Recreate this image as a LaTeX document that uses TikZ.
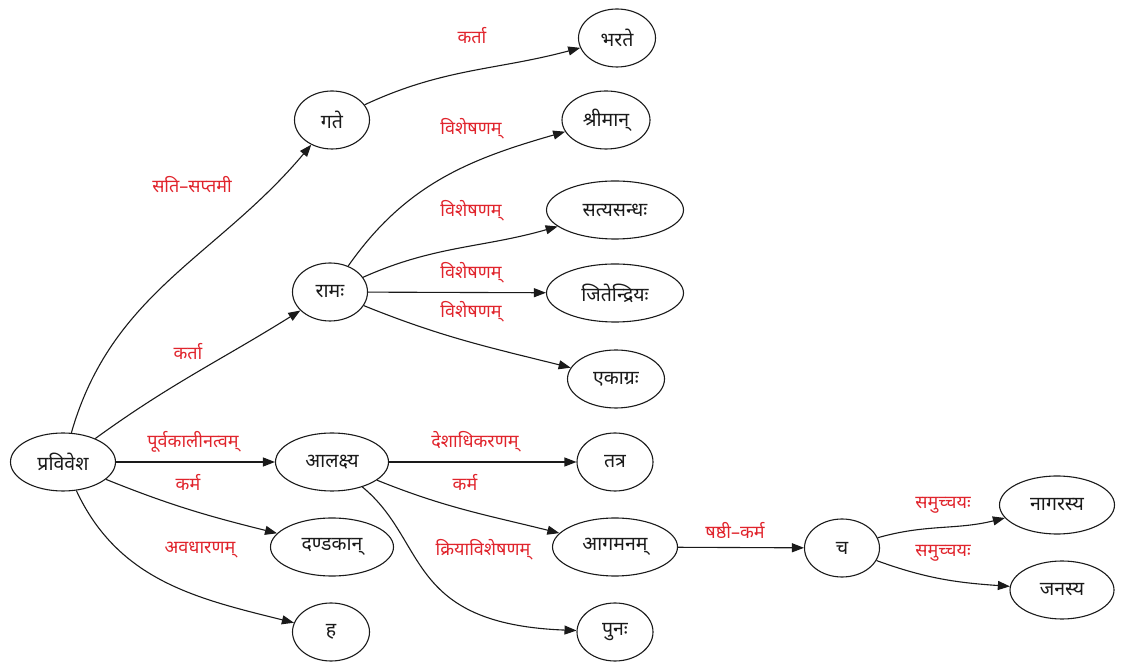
\documentclass[tikz,border=0pt]{standalone}
\usepackage{fontspec}
\usepackage{tikz}
\usetikzlibrary{arrows.meta,positioning,shapes.geometric}
\newfontfamily\deva[Script=Devanagari]{Noto Sans}
\definecolor{inkdark}{HTML}{1A1A1A}
\definecolor{relred}{HTML}{E0242C}
\tikzset{
  word/.style={ellipse, draw=inkdark, line width=1.1pt, minimum height=58pt,
    minimum width=75pt, inner sep=1pt, font=\deva\fontsize{19.5}{22}\selectfont,
    text=inkdark},
  rel/.style={font=\deva\fontsize{18}{21}\selectfont, text=relred, inner sep=1pt},
  dep/.style={-{Triangle[length=12pt,width=9pt]}, line width=1.1pt, color=inkdark},
}
\begin{document}
\begin{tikzpicture}[x=1pt,y=1pt]
  \useasboundingbox (0,0) rectangle (1123,666);
  % words
  \node[word, minimum width=105pt] (pravivesha) at (63,204) {प्रविवेश};
  \node[word] (gate) at (332,546) {गते};
  \node[word, minimum width=77pt] (bharate) at (617,628) {भरते};
  \node[word, minimum width=88pt] (shriman) at (606,546) {श्रीमान्};
  \node[word, minimum width=137pt] (satya) at (615,456) {सत्यसन्धः};
  \node[word] (rama) at (330,374) {रामः};
  \node[word, minimum width=137pt] (jita) at (615,373) {जितेन्द्रियः};
  \node[word, minimum width=97pt] (ekagra) at (616,287) {एकाग्रः};
  \node[word, minimum width=113pt] (alakshya) at (332,204) {आलक्ष्य};
  \node[word, minimum width=76pt] (tatra) at (615,204) {तत्र};
  \node[word, minimum width=125pt] (agamana) at (615,119) {आगमनम्};
  \node[word, minimum width=123pt] (dandaka) at (332,119) {दण्डकान्};
  \node[word, minimum width=77pt] (ha) at (331,34) {ह};
  \node[word, minimum width=76pt] (punah) at (615,34) {पुनः};
  \node[word] (cha) at (842,118) {च};
  \node[word, minimum width=115pt] (nagara) at (1057,161) {नागरस्य};
  \node[word, minimum width=104pt] (jana) at (1062,76) {जनस्य};
  % dependencies
  \draw[dep] (pravivesha) to[out=74,in=-130] (gate);
  \draw[dep] (pravivesha) to[out=36,in=-148] (rama);
  \draw[dep] (pravivesha) -- (alakshya);
  \draw[dep] (pravivesha) to[out=-22,in=166] (dandaka);
  \draw[dep] (pravivesha) to[out=-65,in=166] (ha);
  \draw[dep] (gate) to[out=25,in=-165] (bharate);
  \draw[dep] (rama) to[out=55,in=-164] (shriman);
  \draw[dep] (rama) to[out=24,in=-164] (satya);
  \draw[dep] (rama) -- (jita);
  \draw[dep] (rama) to[out=-22,in=166] (ekagra);
  \draw[dep] (alakshya) -- (tatra);
  \draw[dep] (alakshya) to[out=-22,in=166] (agamana);
  \draw[dep] (alakshya) .. controls (428,125) and (405,42) .. (punah);
  \draw[dep] (agamana) -- (cha);
  \draw[dep] (cha) to[out=16,in=-166] (nagara);
  \draw[dep] (cha) to[out=-20,in=176] (jana);
  % relation labels
  \node[rel] (l-karta1) at (472,630) {कर्ता};
  \node[rel] (l-sati) at (192,481) {सति–सप्तमी};
  \node[rel] (l-vis1) at (471,537) {विशेषणम्};
  \node[rel] (l-vis2) at (471,455) {विशेषणम्};
  \node[rel] (l-vis3) at (471,393) {विशेषणम्};
  \node[rel] (l-vis4) at (471,354) {विशेषणम्};
  \node[rel] (l-karta2) at (188,314) {कर्ता};
  \node[rel] (l-purva) at (193,224) {पूर्वकालीनत्वम्};
  \node[rel] (l-karma1) at (188,184) {कर्म};
  \node[rel] (l-avadh) at (200,116) {अवधारणम्};
  \node[rel] (l-desha) at (475,224) {देशाधिकरणम्};
  \node[rel] (l-karma2) at (465,184) {कर्म};
  \node[rel] (l-kriya) at (483,116) {क्रियाविशेषणम्};
  \node[rel] (l-shashthi) at (735,136) {षष्ठी–कर्म};
  \node[rel] (l-samu1) at (943,161) {समुच्चयः};
  \node[rel] (l-samu2) at (943,113) {समुच्चयः};
\end{tikzpicture}
\end{document}
